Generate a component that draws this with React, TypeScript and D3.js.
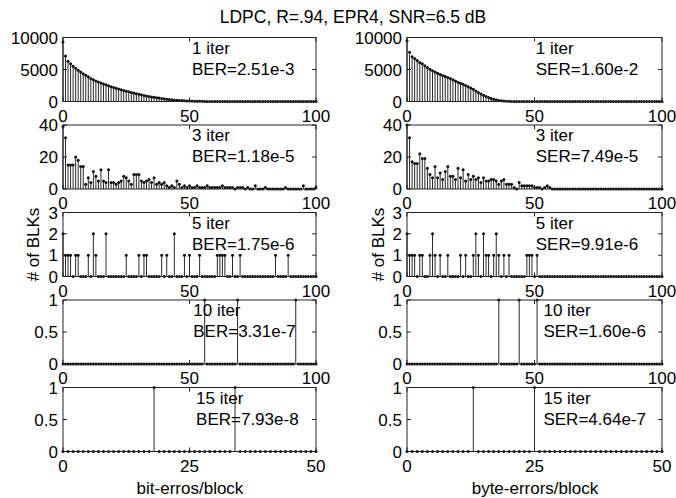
import React from "react";
import * as d3 from "d3";

// error-count histograms, index = number of errors in a block
const bit1Iter = [
  9300, 7100, 6300, 5900, 5500, 5200, 4900, 4600, 4350, 4100,
  3850, 3600, 3400, 3200, 3050, 2900, 2750, 2600, 2450, 2300,
  2200, 2080, 1960, 1840, 1730, 1620, 1520, 1420, 1320, 1220,
  1130, 1040, 950, 870, 790, 720, 650, 590, 530, 470,
  420, 370, 320, 280, 240, 200, 170, 140, 115, 95,
  75, 60, 48, 38, 30, 24, 19, 15, 12, 9,
  7, 6, 5, 4, 3, 3, 2, 2, 2, 1,
  1, 1, 1, 1, 0, 1, 0, 0, 1, 0,
  0, 0, 0, 0, 0, 0, 0, 0, 0, 0,
  0, 0, 0, 0, 0, 0, 0, 0, 0, 0,
  0,
];
const bit3Iter = [
  39, 32, 15, 15, 15, 20, 18, 14, 14, 3,
  7, 4, 11, 8, 5, 12, 5, 4, 12, 4,
  4, 3, 4, 5, 8, 7, 5, 3, 9, 9,
  9, 5, 4, 5, 6, 4, 7, 3, 4, 3,
  4, 2, 1, 2, 1, 5, 3, 1, 2, 1,
  2, 1, 1, 2, 1, 1, 1, 2, 1, 1,
  1, 1, 1, 2, 1, 1, 1, 1, 0, 1,
  1, 1, 0, 1, 0, 0, 2, 0, 0, 0,
  1, 0, 0, 0, 0, 0, 0, 0, 1, 0,
  0, 0, 0, 0, 0, 2, 0, 0, 0, 0,
  1,
];
const bit5Iter = [[0, 2], [1, 1], [2, 1], [3, 1], [5, 1], [6, 1], [10, 1], [12, 2], [13, 1], [17, 2], [25, 1], [30, 1], [32, 1], [33, 1], [39, 1], [41, 1], [44, 2], [48, 1], [50, 1], [54, 1], [61, 1], [62, 1], [63, 1], [64, 1], [67, 1], [70, 1], [84, 1], [89, 1]];
const bit10Iter = [[56, 1], [69, 1], [92, 1]];
const bit15Iter = [[18, 1], [34, 1]];

const byte1Iter = [
  9500, 7700, 7000, 6700, 6400, 6100, 5900, 5600, 5300, 5050,
  4800, 4600, 4400, 4200, 4050, 3900, 3750, 3600, 3400, 3200,
  3000, 2850, 2700, 2500, 2300, 2100, 1900, 1650, 1400, 1180,
  960, 780, 620, 480, 370, 260, 170, 110, 70, 40,
  25, 15, 8, 5, 3, 2, 1, 0, 0, 0,
  0, 0, 0, 0, 0, 0, 0, 0, 0, 0,
  0, 0, 0, 0, 0, 0, 0, 0, 0, 0,
  0, 0, 0, 0, 0, 0, 0, 0, 0, 0,
  0, 0, 0, 0, 0, 0, 0, 0, 0, 0,
  0, 0, 0, 0, 0, 0, 0, 0, 0, 0,
  0,
];
const byte3Iter = [
  40, 32, 17, 16, 16, 22, 19, 19, 13, 9,
  7, 14, 7, 10, 6, 11, 14, 8, 8, 6,
  13, 7, 12, 5, 9, 6, 8, 6, 7, 4,
  7, 5, 5, 6, 6, 5, 3, 5, 6, 3,
  3, 3, 1, 0, 4, 2, 2, 2, 2, 2,
  1, 1, 1, 0, 1, 2, 1, 0, 0, 0,
  0, 0, 0, 0, 0, 0, 0, 0, 0, 0,
  0, 0, 0, 0, 0, 0, 0, 0, 0, 0,
  0, 0, 0, 0, 0, 0, 0, 0, 0, 0,
  0, 0, 0, 0, 0, 0, 0, 0, 0, 0,
  0,
];
const byte5Iter = [[0, 2], [1, 1], [2, 1], [3, 1], [5, 1], [6, 1], [9, 1], [10, 2], [11, 1], [13, 1], [16, 1], [21, 1], [23, 1], [26, 1], [27, 2], [28, 1], [30, 2], [31, 1], [32, 1], [34, 1], [35, 2], [36, 1], [38, 1], [40, 1], [47, 1], [48, 1], [49, 1], [51, 1]];
const byte10Iter = [[36, 1], [44, 1], [51, 1]];
const byte15Iter = [[13, 1], [25, 1]];

const iterLabels = ["1 iter", "3 iter", "5 iter", "10 iter", "15 iter"];
const berLabels = ["BER=2.51e-3", "BER=1.18e-5", "BER=1.75e-6", "BER=3.31e-7", "BER=7.93e-8"];
const serLabels = ["SER=1.60e-2", "SER=7.49e-5", "SER=9.91e-6", "SER=1.60e-6", "SER=4.64e-7"];
const xMaxes = [100, 100, 100, 100, 50];
const yMaxes = [10000, 40, 3, 1, 1];
const xTickVals = [[0, 50, 100], [0, 50, 100], [0, 50, 100], [0, 50, 100], [0, 25, 50]];
const yTickVals = [[0, 5000, 10000], [0, 20, 40], [0, 1, 2, 3], [0, 0.5, 1], [0, 0.5, 1]];

// turn [index, count] pairs into a full histogram
const fromPairs = (pairs, n) => {
  const out = new Array(n + 1).fill(0);
  pairs.forEach(([i, c]) => (out[i] = c));
  return out;
};

const bitSeries = [bit1Iter, bit3Iter, fromPairs(bit5Iter, 100), fromPairs(bit10Iter, 100), fromPairs(bit15Iter, 50)];
const byteSeries = [byte1Iter, byte3Iter, fromPairs(byte5Iter, 100), fromPairs(byte10Iter, 100), fromPairs(byte15Iter, 50)];

const W = 676;
const H = 498;
const FONT = "'Liberation Sans', Arial, Helvetica, sans-serif";
const panelH = 64;
const panelTop = (i) => 37.5 + 87.5 * i;
// annotation x in fraction of plot width, per row
const noteFrac = { left: [0.51, 0.51, 0.51, 0.515, 0.526], right: [0.505, 0.505, 0.505, 0.535, 0.535] };

const Panel = ({ x0, x1, row, values, note1, note2, noteX }) => {
  const top = panelTop(row);
  const bottom = top + panelH;
  const xs = d3.scaleLinear().domain([0, xMaxes[row]]).range([x0, x1]);
  const ys = d3.scaleLinear().domain([0, yMaxes[row]]).range([bottom, top]);
  const tick = 4;
  return (
    <g>
      {values.map((v, i) => (
        <g key={i}>
          {v > 0 && (
            <line x1={xs(i)} x2={xs(i)} y1={ys(0)} y2={ys(v)} stroke="#111" strokeWidth={0.9} />
          )}
          <circle cx={xs(i)} cy={ys(v)} r={1.5} fill="#111" />
        </g>
      ))}
      <rect x={x0} y={top} width={x1 - x0} height={panelH} fill="none" stroke="#222" strokeWidth={1} />
      {yTickVals[row].map((t) => (
        <g key={"y" + t}>
          <line x1={x0} x2={x0 + tick} y1={ys(t)} y2={ys(t)} stroke="#222" />
          <line x1={x1} x2={x1 - tick} y1={ys(t)} y2={ys(t)} stroke="#222" />
          <text x={x0 - 5} y={ys(t)} dy="0.36em" textAnchor="end" fontSize={17}>
            {t}
          </text>
        </g>
      ))}
      {xTickVals[row].map((t) => (
        <g key={"x" + t}>
          <line x1={xs(t)} x2={xs(t)} y1={bottom} y2={bottom - tick} stroke="#222" />
          <line x1={xs(t)} x2={xs(t)} y1={top} y2={top + tick} stroke="#222" />
          <text x={xs(t)} y={bottom + 20} textAnchor="middle" fontSize={17}>
            {t}
          </text>
        </g>
      ))}
      <text x={x0 + noteX * (x1 - x0)} y={top + 16} fontSize={17}>{note1}</text>
      <text x={x0 + noteX * (x1 - x0)} y={top + 37} fontSize={17}>{note2}</text>
    </g>
  );
};

export default function App() {
  const left = [63, 316];
  const right = [407, 662];
  const midY = panelTop(2) + panelH / 2;
  return (
    <svg width={W} height={H} style={{ position: "absolute", left: 0, top: 0, background: "#fff" }} fontFamily={FONT}>
      <text x={353} y={23} textAnchor="middle" fontSize={17.5}>LDPC, R=.94, EPR4, SNR=6.5 dB</text>
      {bitSeries.map((vals, r) => (
        <Panel key={"b" + r} x0={left[0]} x1={left[1]} row={r} values={vals} note1={iterLabels[r]} note2={berLabels[r]} noteX={noteFrac.left[r]} />
      ))}
      {byteSeries.map((vals, r) => (
        <Panel key={"s" + r} x0={right[0]} x1={right[1]} row={r} values={vals} note1={iterLabels[r]} note2={serLabels[r]} noteX={noteFrac.right[r]} />
      ))}
      <text transform={`translate(39,${midY}) rotate(-90)`} textAnchor="middle" fontSize={17}># of BLKs</text>
      <text transform={`translate(384,${midY}) rotate(-90)`} textAnchor="middle" fontSize={17}># of BLKs</text>
      <text x={190} y={494} textAnchor="middle" fontSize={17}>bit-erros/block</text>
      <text x={535} y={494} textAnchor="middle" fontSize={17}>byte-errors/block</text>
    </svg>
  );
}
